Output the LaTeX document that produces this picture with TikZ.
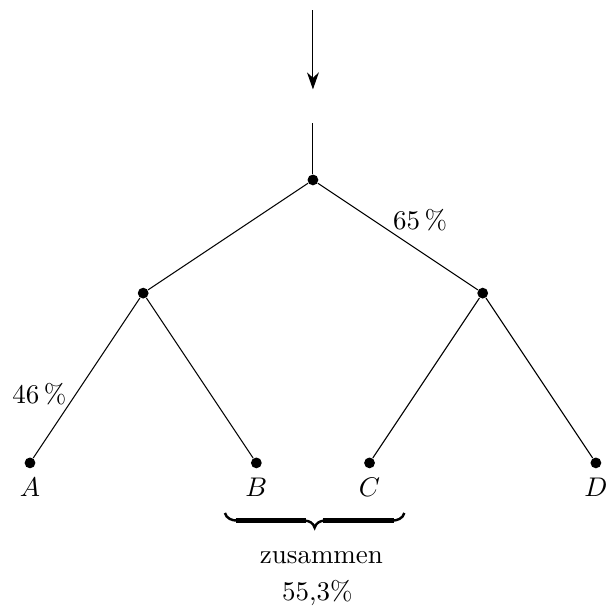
\documentclass[tikz,border=0pt]{standalone}
\usetikzlibrary{arrows.meta}

\tikzset{
  punkt/.style={circle, fill, inner sep=0pt, minimum size=4pt},
  balken/.style={line width=1.9pt, line cap=butt},
  haken/.style={line width=0.9pt},
}

\begin{document}
\begin{tikzpicture}[scale=0.737]
\useasboundingbox (-5.53,3.18) rectangle (5.32,-7.615);

%Pfeil
	\coordinate (start) at (0,3);
	\coordinate (ende) at (0,1.6);
	\draw[-{Stealth[length=6.3pt, width=4.4pt, inset=2pt]}] (start) -- (ende);
	\coordinate (oben) at (0,1);

%Knoten
	\node[punkt] (wurzel) at (0,0) {};
	\node[punkt] (links) at (-3,-2) {};
	\node[punkt] (rechts) at (3,-2) {};
	\foreach \x/ \name in {-5/A, -1/B, 1/C, 5/D} {
		\node[punkt, label={below:$\name$}] (\name) at (\x,-5) {};
	}

%Kanten
	\draw (oben) -- (wurzel);
	\draw (wurzel) -- (links);
	\draw (wurzel) -- node[pos=0.64, above=4pt] {65\,\%} (rechts);
	\draw (links) -- node[pos=0.6, left] {46\,\%} (A);
	\draw (links) -- (B);
	\draw (rechts) -- (C);
	\draw (rechts) -- (D);

%Klammer
	\coordinate (kl) at (-1.555,-5.885);
	\coordinate (kla) at (-1.33,-6.02);
	\coordinate (klb) at (-0.15,-6.02);
	\coordinate (spitze) at (0.03,-6.145);
	\coordinate (kra) at (0.21,-6.02);
	\coordinate (krb) at (1.39,-6.02);
	\coordinate (kr) at (1.615,-5.885);
	\draw[haken] (kl) to[out=-75, in=180] (kla);
	\draw[balken] ([xshift=-1pt]kla) -- ([xshift=1pt]klb);
	\draw[haken] (klb) to[out=0, in=105] (spitze) to[out=75, in=180] (kra);
	\draw[balken] ([xshift=-1pt]kra) -- ([xshift=1pt]krb);
	\draw[haken] (krb) to[out=0, in=-105] (kr);

	\node[anchor=base] (zus) at (0.15,-6.77) {zusammen};
	\node[anchor=base] (summe) at (0.08,-7.44) {55,3\%};

\end{tikzpicture}
\end{document}
